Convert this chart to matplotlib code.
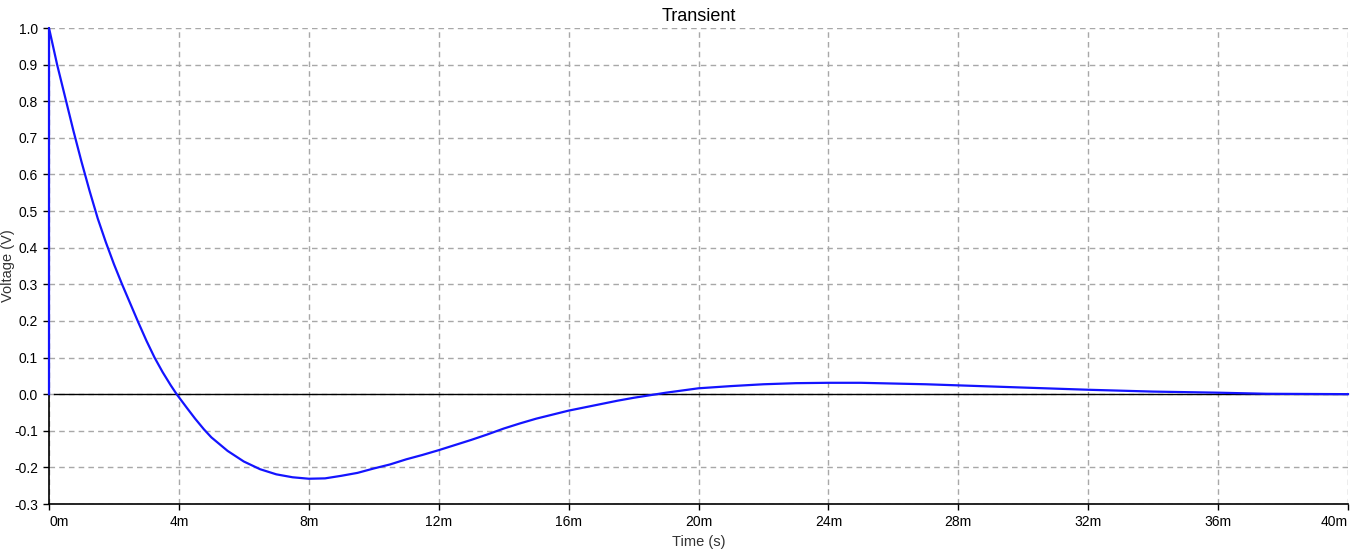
import matplotlib.pyplot as plt
import numpy as np

plt.rcParams['font.family'] = ['Liberation Sans', 'DejaVu Sans']

# time in ms, voltage in V
t_ms = np.array([0.0, 0.0, 0.25, 0.5, 0.75, 1.0, 1.25, 1.5, 1.75, 2.0, 2.25, 2.5, 2.75,
                 3.0, 3.25, 3.5, 3.75, 3.93, 4.25, 4.5, 4.77, 5.0, 5.5, 6.0, 6.5, 7.0,
                 7.5, 8.0, 8.5, 9.0, 9.5, 10.0, 10.5, 11.0, 11.5, 12.0, 12.5, 13.0,
                 13.5, 14.0, 14.5, 15.0, 15.5, 16.0, 16.5, 17.0, 17.5, 18.0, 18.5,
                 19.0, 19.5, 20.0, 21.0, 22.0, 23.0, 24.0, 25.0, 26.0, 27.0, 28.0,
                 30.0, 32.0, 34.0, 36.0, 37.5, 40.0])
volts = np.array([0.0, 1.0, 0.90, 0.81, 0.72, 0.635, 0.555, 0.48, 0.415, 0.355, 0.30, 0.248, 0.196,
                  0.146, 0.10, 0.06, 0.024, 0.0, -0.038, -0.067, -0.096, -0.118, -0.155, -0.184, -0.205, -0.219,
                  -0.227, -0.231, -0.230, -0.223, -0.215, -0.203, -0.192, -0.178, -0.166, -0.153, -0.139, -0.125,
                  -0.110, -0.094, -0.080, -0.067, -0.056, -0.045, -0.036, -0.027, -0.018, -0.010, -0.003,
                  0.004, 0.010, 0.016, 0.022, 0.027, 0.030, 0.031, 0.031, 0.029, 0.027, 0.024,
                  0.018, 0.012, 0.007, 0.004, 0.001, 0.0])

x_ticks = [0, 4, 8, 12, 16, 20, 24, 28, 32, 36, 40]
x_labels = ["0m", "4m", "8m", "12m", "16m", "20m", "24m", "28m", "32m", "36m", "40m"]
y_ticks = np.round(np.arange(-0.3, 1.01, 0.1), 1)


def main():
    fig = plt.figure(figsize=(13.52, 5.55), dpi=100)
    ax = fig.add_axes([49 / 1352, 1 - 504 / 555, 1299 / 1352, 476 / 555])

    ax.grid(True, color='#a8a8a8', linestyle=(0, (4, 3)), linewidth=1.0)
    ax.axhline(0, xmin=0.004, color='black', lw=1.0, zorder=2)
    ax.plot(t_ms, volts, color='#1414ff', lw=1.6, zorder=3, clip_on=False)

    ax.set_xlim(0, 40)
    ax.set_ylim(-0.3, 1.0)
    ax.set_xticks(x_ticks)
    ax.set_xticklabels(x_labels)
    ax.set_yticks(y_ticks)
    ax.set_yticklabels([f"{v:.1f}" for v in y_ticks])
    labels = ax.get_xticklabels()
    labels[0].set_horizontalalignment('left')
    labels[-1].set_horizontalalignment('right')

    for s in ['top', 'right']:
        ax.spines[s].set_visible(False)
    for s in ['left', 'bottom']:
        ax.spines[s].set_color('black')
        ax.spines[s].set_linewidth(1.2)

    ax.tick_params(direction='out', length=4, width=1, labelsize=10, colors='black', pad=4)
    ax.set_title("Transient", fontsize=13, pad=5)
    ax.set_xlabel("Time (s)", fontsize=10.5, labelpad=4, color='#333333')
    fig.text(8 / 1352, 1 - 266 / 555, "Voltage (V)", rotation=90, fontsize=10.5,
             color='#333333', ha='center', va='center')

    fig.savefig("out.png", dpi=100)


if __name__ == '__main__':
    main()
